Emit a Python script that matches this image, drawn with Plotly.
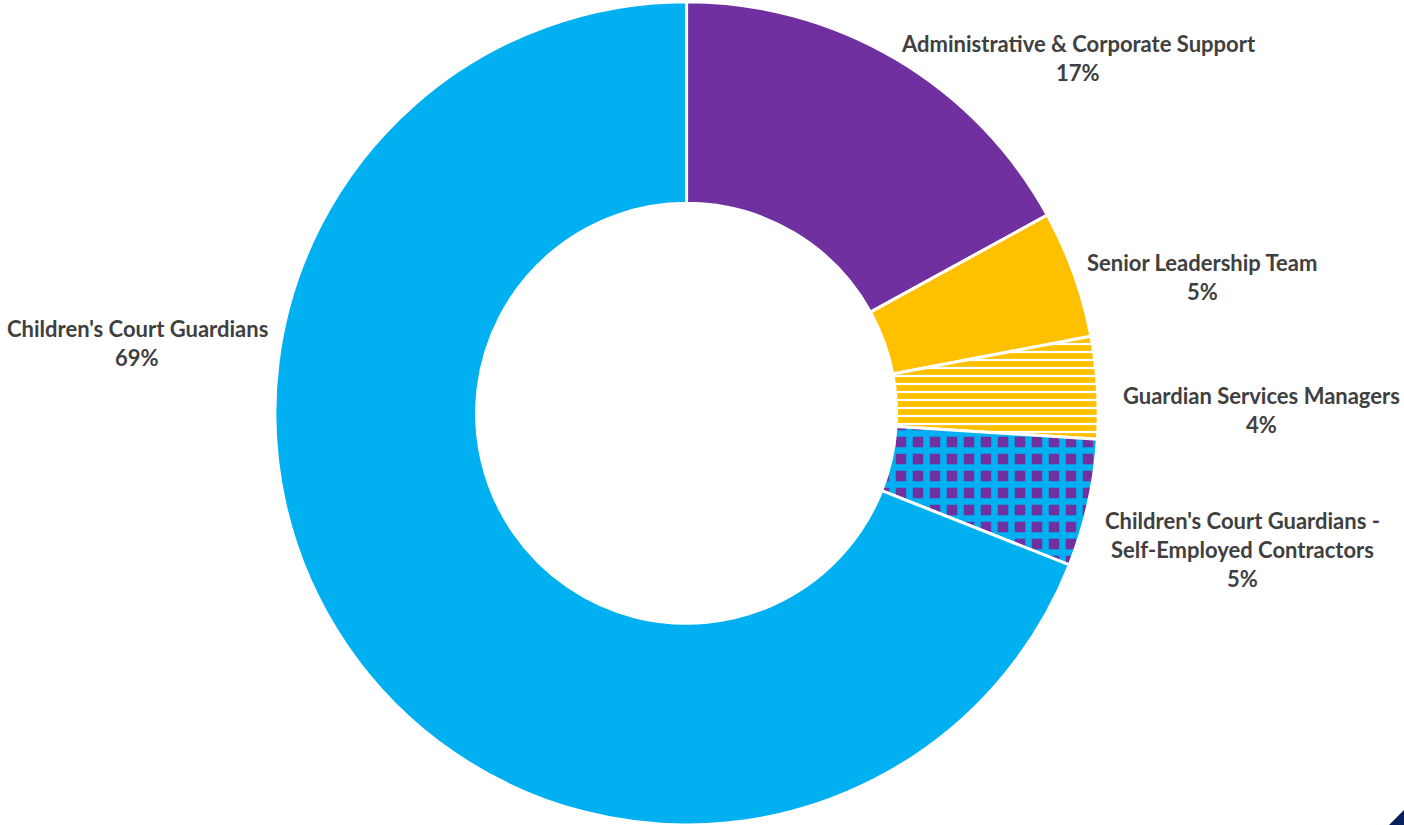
import plotly.graph_objects as go

# Workforce split by staff group (percent of total headcount)
categories = [
    "Administrative & Corporate Support",
    "Senior Leadership Team",
    "Guardian Services Managers",
    "Children's Court Guardians -<br>Self-Employed Contractors",
    "Children's Court Guardians",
]
shares = [17, 5, 4, 5, 69]

PURPLE = "#7030A0"
YELLOW = "#FFC000"
BLUE = "#00B0F0"
TEXT = "#404040"

fill_colors = [PURPLE, YELLOW, "white", PURPLE, BLUE]
patterns = [
    dict(shape=""),
    dict(shape=""),
    dict(shape="-", fgcolor=YELLOW, bgcolor="white", size=8, solidity=0.72),
    dict(shape="+", fgcolor=BLUE, bgcolor=PURPLE, size=17, solidity=0.62),
    dict(shape=""),
]

W, H = 1404, 825

fig = go.Figure(
    go.Pie(
        labels=[c.replace("<br>", " ") for c in categories],
        values=shares,
        hole=0.51,
        sort=False,
        direction="clockwise",
        rotation=0,
        textinfo="none",
        marker=dict(
            colors=fill_colors,
            line=dict(color="white", width=3),
            pattern=dict(
                shape=[p.get("shape", "") for p in patterns],
                fgcolor=[p.get("fgcolor", "white") for p in patterns],
                bgcolor=[p.get("bgcolor", c) for p, c in zip(patterns, fill_colors)],
                size=[p.get("size", 8) for p in patterns],
                solidity=[p.get("solidity", 0.5) for p in patterns],
                fillmode="replace",
            ),
        ),
        domain=dict(x=[0.489 - 0.32, 0.489 + 0.32], y=[0.0, 0.998]),
        showlegend=False,
    )
)

# Outside data labels: name lines followed by the percentage
label_centers = [  # (x px, y px of block centre)
    (1078, 58),
    (1202, 277),
    (1261, 410),
    (1242, 549),
    (137, 343),
]
line_gap = 29
total = sum(shares)
for cat, val, (cx, cy) in zip(categories, shares, label_centers):
    lines = cat.split("<br>") + [f"{round(100 * val / total)}%"]
    top = cy - line_gap * (len(lines) - 1) / 2
    for i, ln in enumerate(lines):
        fig.add_annotation(
            x=cx / W, y=1 - (top + i * line_gap) / H,
            xref="paper", yref="paper",
            text=f"<b>{ln}</b>", showarrow=False,
            xanchor="center", yanchor="middle",
            font=dict(family="Lato", size=22, color=TEXT),
        )

# corner accent
fig.add_shape(
    type="path", xref="paper", yref="paper",
    path=f"M 1 0 L {1 - 15 / W} 0 L 1 {15 / H} Z",
    fillcolor="#0B1F5C", line=dict(width=0),
)

fig.update_layout(
    width=W, height=H,
    margin=dict(l=0, r=0, t=0, b=0),
    paper_bgcolor="white", plot_bgcolor="white",
)

fig.write_html("out.html")
